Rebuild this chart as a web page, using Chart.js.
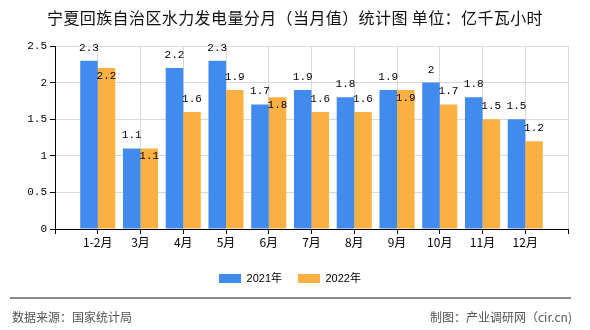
<!DOCTYPE html>
<html>
<head>
<meta charset="utf-8">
<script src="https://cdn.jsdelivr.net/npm/chart.js@4/dist/chart.umd.min.js"></script>
<style>
body { margin: 0; background: #fff; }
#wrap { position: relative; width: 590px; height: 330px; overflow: hidden; }
#chartBox { position: absolute; left: 0; top: 0; width: 590px; height: 330px; }
#title { position: absolute; left: 0; top: 7px; width: 590px; text-align: center; font: 16px "Noto Sans CJK SC", sans-serif; color: #111; line-height: 20px; letter-spacing: 0.4px; }
#line { position: absolute; left: 10px; top: 297px; width: 561px; height: 0; border-top: 2px solid #8a8a8a; }
.foot { position: absolute; top: 308px; font: 12px "Noto Sans CJK SC", sans-serif; color: #555; line-height: 18px; }
#source { left: 12px; }
#maker { right: 18px; }
</style>
</head>
<body>
<div id="wrap">
	<div id="chartBox"><canvas id="chart" width="590" height="330"></canvas></div>
	<div id="title">宁夏回族自治区水力发电量分月（当月值）统计图 单位：亿千瓦小时</div>
	<div id="line"></div>
	<div class="foot" id="source">数据来源：国家统计局</div>
	<div class="foot" id="maker">制图：产业调研网（cir.cn)</div>
</div>
<script>
let months = ["1-2月", "3月", "4月", "5月", "6月", "7月", "8月", "9月", "10月", "11月", "12月"];
let values2021 = [2.3, 1.1, 2.2, 2.3, 1.7, 1.9, 1.8, 1.9, 2, 1.8, 1.5];
let values2022 = [2.2, 1.1, 1.6, 1.9, 1.8, 1.6, 1.6, 1.9, 1.7, 1.5, 1.2];
let yTicks = [0, 0.5, 1, 1.5, 2, 2.5];

let blue = "#428BEE";
let orange = "#FBB141";

// bars sit on the grid lines, so pad the category list with an empty slot on each side
let labels = [""].concat(months, [""]);
function padded(arr) {
	return [null].concat(arr, [null]);
}

let valueLabels = {
	id: "valueLabels",
	afterLayout(chart) {
		// legend in the picture sits a little right of centre
		chart.legend.left += 6;
		chart.legend.right += 6;
	},
	afterDatasetsDraw(chart) {
		let ctx = chart.ctx;
		let metaA = chart.getDatasetMeta(0);
		let metaB = chart.getDatasetMeta(1);
		ctx.save();
		ctx.font = "11px 'Liberation Mono', monospace";
		ctx.fillStyle = "#000";
		ctx.textAlign = "center";
		ctx.textBaseline = "middle";
		for (let i = 0; i < labels.length; i++) {
			let a = chart.data.datasets[0].data[i];
			let b = chart.data.datasets[1].data[i];
			if (a == null) continue;
			let barA = metaA.data[i];
			let barB = metaB.data[i];
			let yA = barA.y - 13;
			ctx.fillText(String(a), barA.x, yA);
			let yB = barB.y - 13;
			if (Math.abs(yB - yA) < 12) {
				yB = barB.y + 8;
			}
			ctx.fillText(String(b), barB.x, yB);
		}
		ctx.restore();
	}
};

let chartCtx = document.getElementById("chart").getContext("2d");
let chart = new Chart(chartCtx, {
	type: "bar",
	data: {
		labels: labels,
		datasets: [{
			label: "2021年",
			data: padded(values2021),
			backgroundColor: blue,
			borderWidth: 0,
		}, {
			label: "2022年",
			data: padded(values2022),
			backgroundColor: orange,
			borderWidth: 0,
		}]
	},
	options: {
		responsive: false,
		animation: false,
		devicePixelRatio: 1,
		categoryPercentage: 0.82,
		barPercentage: 1,
		layout: { padding: { top: 46, right: 22, left: 0, bottom: 36 } },
		plugins: {
			title: { display: false },
			tooltip: { enabled: false },
			legend: {
				position: "bottom",
				labels: {
					boxWidth: 22,
					boxHeight: 9,
					padding: 16,
					color: "#000",
					font: { size: 11, family: "'Liberation Sans', 'Noto Sans CJK SC', sans-serif" }
				}
			}
		},
		scales: {
			x: {
				offset: false,
				grid: { offset: false, color: "#d9d9d9", tickColor: "#000", tickLength: 5 },
				border: { color: "#000", width: 1 },
				ticks: {
					autoSkip: false,
					maxRotation: 0,
					padding: 1,
					color: "#000",
					font: { size: 12, family: "'Noto Sans CJK SC', sans-serif" }
				},
				afterFit: function (scale) { scale.height = 28; }
			},
			y: {
				min: 0,
				max: 2.5,
				afterBuildTicks: function (scale) {
					scale.ticks = yTicks.map(function (v) { return { value: v }; });
				},
				grid: { color: "#d9d9d9", tickColor: "#000", tickLength: 5 },
				border: { color: "#000", width: 1 },
				ticks: {
					padding: 3,
					color: "#000",
					font: { size: 11, family: "'Liberation Mono', monospace" },
					callback: function (value) { return String(value); }
				},
				afterFit: function (scale) { scale.width = 55; }
			}
		}
	},
	plugins: [valueLabels]
});
</script>
</body>
</html>
